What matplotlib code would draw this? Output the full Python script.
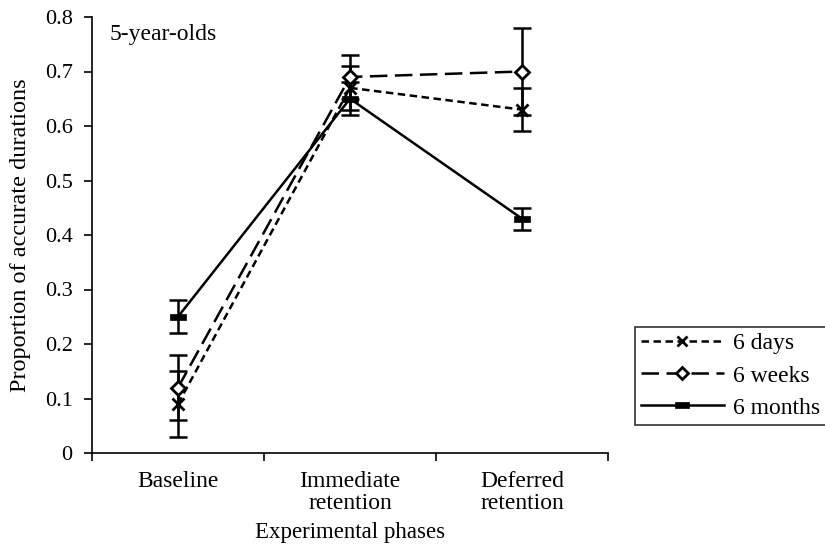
import matplotlib
matplotlib.use("Agg")
import matplotlib.pyplot as plt
import numpy as np

plt.rcParams['font.family'] = ['Liberation Serif', 'DejaVu Serif']

phases = ["Baseline", "Immediate\nretention", "Deferred\nretention"]
series_names = ["6 days", "6 weeks", "6 months"]
days_vals = [0.09, 0.67, 0.63]
days_err = [0.06, 0.04, 0.04]
weeks_vals = [0.12, 0.69, 0.70]
weeks_err = [0.06, 0.04, 0.08]
months_vals = [0.25, 0.65, 0.43]
months_err = [0.03, 0.03, 0.02]
yticks = [0, 0.1, 0.2, 0.3, 0.4, 0.5, 0.6, 0.7, 0.8]
ytick_labels = ["0", "0.1", "0.2", "0.3", "0.4", "0.5", "0.6", "0.7", "0.8"]

fig = plt.figure(figsize=(8.25, 5.45), dpi=100)
ax = fig.add_axes([92/825, 1-453/545, (608-92)/825, (453-17)/545])

x = np.arange(len(phases))
rect = [(-1, -0.4), (1, -0.4), (1, 0.4), (-1, 0.4), (-1, -0.4)]

styles = [
    dict(vals=days_vals, err=days_err, ls=(0, (3, 1.8)), marker='x', ms=9, mfc='black', mew=2.0),
    dict(vals=weeks_vals, err=weeks_err, ls=(0, (7, 3)), marker='D', ms=7, mfc='white', mew=2.0),
    dict(vals=months_vals, err=months_err, ls='-', marker=rect, ms=12, mfc='black', mew=0.5),
]
handles = []
for name, st in zip(series_names, styles):
    ax.errorbar(x, st['vals'], yerr=st['err'], fmt='none', ecolor='black',
                elinewidth=1.8, capsize=6.5, capthick=1.8, zorder=2)
    h, = ax.plot(x, st['vals'], linestyle=st['ls'], color='black', lw=1.8,
                 marker=st['marker'], ms=st['ms'], mfc=st['mfc'], mec='black',
                 mew=st['mew'], zorder=3, label=name)
    handles.append(h)

ax.set_xlim(-0.5, 2.5)
ax.set_ylim(0, 0.8)
ax.set_yticks(yticks)
ax.set_yticklabels(ytick_labels, fontsize=16)
ax.set_xticks([-0.5, 0.5, 1.5, 2.5])
ax.set_xticklabels([])
ax.set_xticks(x, minor=True)
ax.set_xticklabels(phases, minor=True, fontsize=17, linespacing=1.05)
ax.tick_params(axis='x', which='minor', length=0, pad=13)
ax.tick_params(axis='x', which='major', length=6, width=1.2, direction='out')
ax.tick_params(axis='y', length=6, width=1.2, direction='out', pad=8)
for s in ['top', 'right']:
    ax.spines[s].set_visible(False)
for s in ['left', 'bottom']:
    ax.spines[s].set_linewidth(1.2)

ax.set_xlabel("Experimental phases", fontsize=16.5, labelpad=6)
ax.set_ylabel("Proportion of accurate durations", fontsize=17.5, labelpad=10)
ax.text(0.035, 0.985, "5-year-olds", transform=ax.transAxes, fontsize=17,
        va='top', ha='left')

leg = fig.legend(handles=handles, loc='upper left', bbox_to_anchor=(635/825, 1-327/545),
                 fontsize=17, frameon=True, fancybox=False, edgecolor='black',
                 handlelength=3.5, borderpad=0.25, labelspacing=0.45, handletextpad=0.4,
                 borderaxespad=0, markerscale=0.85)
leg.get_frame().set_linewidth(1.2)

fig.savefig("out.png", dpi=100)
